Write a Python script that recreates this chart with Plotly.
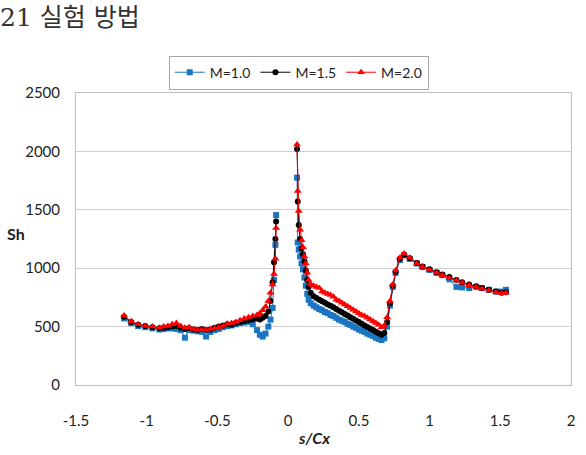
import plotly.graph_objects as go

# ---- data ----
s_ps = [-1.16, -1.11, -1.06, -1.01, -0.96, -0.91, -0.88, -0.85, -0.82, -0.79,
        -0.76, -0.73, -0.70, -0.67, -0.64, -0.61, -0.58, -0.55, -0.52, -0.49,
        -0.46, -0.43, -0.40, -0.37, -0.34, -0.31, -0.28, -0.25, -0.22, -0.20,
        -0.18, -0.16, -0.14, -0.125, -0.11, -0.10, -0.09, -0.085]
s_ss = [0.063, 0.068, 0.075, 0.085, 0.095, 0.105, 0.115, 0.125, 0.135, 0.145,
        0.16, 0.18, 0.20, 0.22, 0.24, 0.26, 0.28, 0.30, 0.32, 0.34,
        0.36, 0.38, 0.40, 0.42, 0.44, 0.46, 0.48, 0.50, 0.52, 0.54,
        0.56, 0.58, 0.60, 0.62, 0.64, 0.66, 0.68, 0.70, 0.72, 0.74,
        0.76, 0.79, 0.82, 0.86, 0.91, 0.95, 1.00, 1.05, 1.09, 1.14,
        1.19, 1.23, 1.28, 1.33, 1.37, 1.42, 1.47, 1.51, 1.54]

sh_m10_ps = [570, 530, 505, 495, 485, 475, 480, 485, 485, 480,
             470, 405, 470, 465, 460, 455, 415, 455, 470, 480,
             495, 505, 510, 520, 530, 535, 540, 520, 470, 430,
             415, 440, 500, 560, 660, 900, 1200, 1455]
sh_m15_ps = [585, 540, 515, 505, 495, 485, 490, 495, 500, 505,
             490, 480, 485, 475, 470, 480, 470, 475, 490, 500,
             510, 520, 515, 530, 540, 545, 555, 560, 570, 560,
             575, 590, 630, 720, 880, 1050, 1250, 1400]
sh_m20_ps = [595, 545, 520, 505, 500, 490, 500, 505, 520, 530,
             505, 490, 495, 480, 470, 475, 470, 480, 485, 495,
             505, 525, 530, 540, 555, 570, 580, 590, 600, 615,
             640, 670, 720, 790, 860, 950, 1080, 1345]

sh_m10_ss = [1775, 1220, 1160, 1100, 1040, 990, 920, 850, 780, 730,
             700, 680, 665, 650, 640, 625, 615, 600, 590, 575,
             560, 550, 540, 525, 515, 500, 490, 475, 465, 455,
             440, 430, 420, 405, 395, 385, 400, 500, 680, 840,
             960, 1070, 1110, 1080, 1040, 1010, 985, 960, 940, 905,
             840, 835, 830, 840, 830, 815, 800, 800, 815]
sh_m15_ss = [2020, 1570, 1370, 1250, 1170, 1120, 1060, 980, 900, 840,
             790, 760, 745, 730, 718, 705, 690, 678, 665, 650,
             636, 622, 608, 595, 580, 567, 553, 540, 525, 510,
             497, 484, 470, 456, 442, 430, 445, 540, 700, 850,
             970, 1080, 1115, 1085, 1045, 1015, 990, 965, 945, 925,
             900, 880, 860, 845, 830, 815, 800, 790, 795]
sh_m20_ss = [2060, 1660, 1490, 1330, 1240, 1180, 1100, 1040, 960, 900,
             860, 850, 840, 830, 800, 790, 780, 770, 755, 730,
             720, 705, 690, 675, 660, 645, 630, 615, 600, 590,
             575, 560, 545, 530, 515, 495, 510, 580, 720, 860,
             980, 1090, 1125, 1090, 1040, 1010, 985, 960, 940, 915,
             895, 875, 855, 840, 825, 810, 795, 785, 790]

series_names = ["M=1.0", "M=1.5", "M=2.0"]
x_tickvals = [-1.5, -1, -0.5, 0, 0.5, 1, 1.5, 2]
x_ticktext = ["-1.5", "-1", "-0.5", "0", "0.5", "1", "1.5", "2"]
y_tickvals = [0, 500, 1000, 1500, 2000, 2500]
y_ticktext = ["0", "500", "1000", "1500", "2000", "2500"]

# ---- figure ----
styles = [
    dict(color="#1a75c2", symbol="square", size=6),
    dict(color="#000000", symbol="circle", size=6),
    dict(color="#ff0000", symbol="triangle-up", size=7),
]
ps_data = [sh_m10_ps, sh_m15_ps, sh_m20_ps]
ss_data = [sh_m10_ss, sh_m15_ss, sh_m20_ss]

fig = go.Figure()
for name, st, ps, ss in zip(series_names, styles, ps_data, ss_data):
    fig.add_trace(go.Scatter(
        x=s_ps + [None] + s_ss,
        y=ps + [None] + ss,
        mode="lines+markers",
        name=name,
        connectgaps=False,
        line=dict(color=st["color"], width=1),
        marker=dict(color=st["color"], symbol=st["symbol"], size=st["size"],
                    line=dict(width=0)),
    ))

tick_font = dict(family="Lato, Liberation Sans, sans-serif", size=15, color="#1e1e1e")

fig.update_layout(
    width=586, height=455,
    margin=dict(l=76, r=11, t=93, b=70),
    paper_bgcolor="white", plot_bgcolor="white",
    title=dict(text="21 실험 방법", xref="container", yref="container",
               x=0.0, xanchor="left", y=1 - 17 / 455, yanchor="middle",
               font=dict(family="DejaVu Serif, Noto Sans CJK KR, serif",
                         size=25, color="#333333")),
    showlegend=True,
    legend=dict(orientation="h", x=0.45, xanchor="center", y=1.128, yanchor="top",
                bordercolor="#a6a6a6", borderwidth=1, bgcolor="white",
                font=dict(family="Lato, Liberation Sans, sans-serif", size=14, color="#1e1e1e"),
                itemwidth=30, tracegroupgap=0),
    xaxis=dict(range=[-1.5, 2], tickvals=x_tickvals, ticktext=x_ticktext,
               showgrid=False, zeroline=False, showline=True, linecolor="#bfbfbf",
               linewidth=1, mirror=True, ticks="", ticklabelstandoff=22,
               tickfont=tick_font),
    yaxis=dict(range=[0, 2500], tickvals=y_tickvals, ticktext=y_ticktext,
               showgrid=True, gridcolor="#d0d0d0", gridwidth=1, zeroline=False,
               showline=True, linecolor="#bfbfbf", linewidth=1, mirror=True,
               ticks="", ticklabelstandoff=12, tickfont=tick_font),
    annotations=[
        dict(text="<b>Sh</b>", xref="paper", yref="paper",
             x=(16 - 76) / 499, y=(385 - 233) / 292, xanchor="center", yanchor="middle",
             showarrow=False,
             font=dict(family="Lato, Liberation Sans, sans-serif", size=16, color="#1e1e1e")),
        dict(text="<b><i>s/Cx</i></b>", xref="paper", yref="paper",
             x=(316 - 76) / 499, y=(385 - 437) / 292, xanchor="center", yanchor="middle",
             showarrow=False,
             font=dict(family="Lato, Liberation Sans, sans-serif", size=16, color="#1e1e1e")),
    ],
)

fig.write_html("out.html")
